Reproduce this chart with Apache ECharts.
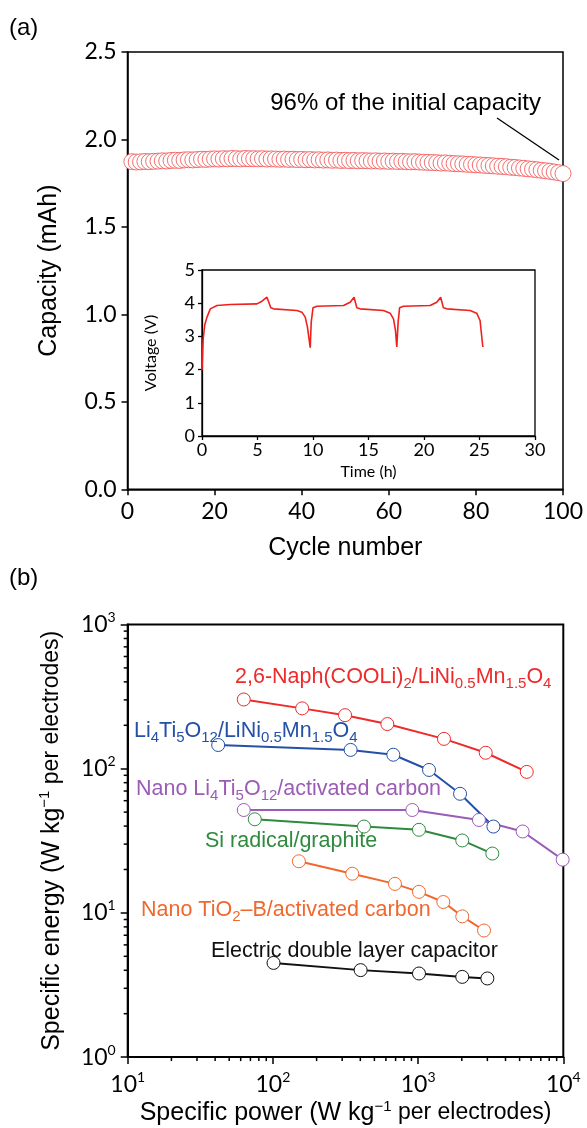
<!DOCTYPE html>
<html>
<head>
<meta charset="utf-8">
<script src="https://cdn.jsdelivr.net/npm/echarts@6/dist/echarts.min.js"></script>
<style>html,body{margin:0;padding:0;background:#fff}#c{width:587px;height:1128px}</style>
</head>
<body>
<div id="c"></div>
<script>
// ---------- (a) capacity vs cycle ----------
const cycles = [];
for (let i = 1; i <= 100; i++) cycles.push(i);
const capacity = [
  1.873,1.871,1.872,1.874,1.873,1.875,1.876,1.878,1.877,1.880,
  1.881,1.880,1.883,1.884,1.883,1.885,1.887,1.886,1.888,1.889,
  1.888,1.890,1.889,1.891,1.890,1.889,1.891,1.890,1.890,1.889,
  1.890,1.888,1.889,1.888,1.887,1.888,1.886,1.887,1.885,1.886,
  1.884,1.885,1.883,1.884,1.882,1.883,1.881,1.882,1.880,1.881,
  1.879,1.880,1.878,1.879,1.878,1.877,1.878,1.876,1.877,1.875,
  1.876,1.874,1.875,1.873,1.872,1.873,1.871,1.870,1.869,1.868,
  1.867,1.865,1.866,1.864,1.862,1.861,1.860,1.858,1.857,1.855,
  1.854,1.852,1.851,1.849,1.847,1.846,1.844,1.841,1.840,1.837,
  1.835,1.832,1.830,1.827,1.824,1.821,1.818,1.814,1.810,1.805
];

// ---------- inset voltage vs time ----------
const timeH = [0,0.1,0.25,0.45,0.75,1.35,2.55,4.95,5.4,5.85,6.0,6.2,6.45,8.55,9.0,9.3,9.5,9.7,9.75,
  9.84,10.0,10.35,12.75,13.35,13.7,13.95,14.25,16.35,16.95,17.25,17.43,17.55,
  17.67,17.8,18.15,20.55,21.15,21.5,21.75,22.05,24.15,24.75,25.05,25.3];
const voltage = [1.98,2.9,3.35,3.58,3.83,3.93,3.96,3.98,4.06,4.18,4.2,3.86,3.83,3.78,3.73,3.58,3.28,2.78,2.66,
  3.43,3.86,3.91,3.93,4.03,4.18,3.86,3.83,3.78,3.70,3.53,3.18,2.68,
  3.43,3.86,3.91,3.93,4.03,4.18,3.86,3.83,3.78,3.70,3.48,2.68];

// ---------- (b) Ragone plot ----------
const naphP = [63, 159, 314, 614, 1507, 2922, 5600];
const naphE = [302, 262, 235, 204, 161, 129, 95];
const ltoLnmoP = [42, 343, 675, 1189, 1945, 3300];
const ltoLnmoE = [146, 135, 125, 98, 67, 39.7];
const ltoAcP = [63, 912, 2624, 5248, 9900];
const ltoAcE = [51.7, 51.7, 44.1, 36.7, 23.4];
const siP = [75, 424, 1014, 2014, 3245];
const siE = [44.6, 39.7, 37.7, 31.8, 25.8];
const tioP = [151, 352, 693, 1014, 1492, 2014, 2844];
const tioE = [22.8, 18.7, 15.9, 14.0, 11.9, 9.46, 7.55];
const edlcP = [101, 402, 1014, 2014, 2999];
const edlcE = [4.50, 4.01, 3.80, 3.60, 3.51];

const seriesNames = ['2,6-Naph(COOLi)2/LiNi0.5Mn1.5O4','Li4Ti5O12/LiNi0.5Mn1.5O4','Nano Li4Ti5O12/activated carbon','Si radical/graphite','Nano TiO2–B/activated carbon','Electric double layer capacitor'];

const minorX = [20,30,40,50,60,70,80,90,200,300,400,500,600,700,800,900,2000,3000,4000,5000,6000,7000,8000,9000];
const minorY = [2,3,4,5,6,7,8,9,20,30,40,50,60,70,80,90,200,300,400,500,600,700,800,900];

const zip = (a, b) => a.map((v, i) => [v, b[i]]);
const BLK = '#000';
const ARIAL = 'Liberation Sans';
const NUM = 'Lato';

const chart = echarts.init(document.getElementById('c'), null, {renderer: 'canvas'});

function linAxis(o) {
  return Object.assign({
    type: 'value',
    splitLine: {show: false},
    axisLine: {show: true, onZero: false, lineStyle: {color: BLK, width: 1.5}},
    axisTick: {show: true, inside: false, length: 6, lineStyle: {color: BLK, width: 1.5}},
    axisLabel: {color: BLK, fontFamily: NUM, fontSize: 23, margin: 11},
    nameLocation: 'middle',
    nameTextStyle: {color: BLK, fontFamily: ARIAL, fontSize: 25, lineHeight: 30}
  }, o);
}

const supRich = {
  b: {fontFamily: NUM, fontSize: 23, lineHeight: 28, color: BLK},
  s: {fontFamily: NUM, fontSize: 14, lineHeight: 14, padding: [0, 0, 14, 0], color: BLK}
};
const powFmt = v => '{b|10}{s|' + Math.round(Math.log10(v)) + '}';

function logAxis(o) {
  return Object.assign({
    type: 'log', logBase: 10,
    splitLine: {show: false},
    minorTick: {show: false},
    axisLine: {show: true, onZero: false, lineStyle: {color: BLK, width: 2}},
    axisTick: {show: true, inside: false, length: 7, lineStyle: {color: BLK, width: 1.5}},
    axisLabel: {formatter: powFmt, rich: supRich, margin: 13},
    nameLocation: 'middle'
  }, o);
}

const nameRich = {
  a: {fontFamily: ARIAL, fontSize: 25, lineHeight: 30, color: BLK},
  s: {fontFamily: ARIAL, fontSize: 15, lineHeight: 15, padding: [0, 0, 13, 0], color: BLK},
  p: {fontFamily: ARIAL, fontSize: 23, lineHeight: 30, color: BLK}
};

const subRich = (color) => ({
  n: {fontFamily: ARIAL, fontSize: 21.5, lineHeight: 28, color: color},
  s: {fontFamily: ARIAL, fontSize: 15, lineHeight: 15, padding: [13, 0, 0, 0], color: color}
});

function lbl(text, x, capY, color) {
  return {type: 'text', x: x, y: capY - 14, z: 100,
    style: {text: text, rich: subRich(color), fill: color, verticalAlign: 'top', align: 'left'}};
}

function ragone(name, P, E, color) {
  return {
    name: name, type: 'line', xAxisIndex: 2, yAxisIndex: 2,
    data: zip(P, E), symbol: 'circle', symbolSize: 13, showSymbol: true,
    lineStyle: {color: color, width: 2},
    itemStyle: {color: '#fff', borderColor: color, borderWidth: 1},
    z: 5, clip: false, animation: false
  };
}

const option = {
  animation: false,
  backgroundColor: '#fff',
  grid: [
    {left: 127.5, top: 52, width: 435.5, height: 437.3, show: true, borderColor: BLK, borderWidth: 1.5, containLabel: false},
    {left: 202, top: 270, width: 333, height: 166, show: true, borderColor: BLK, borderWidth: 1.3, containLabel: false},
    {left: 127.7, top: 624.5, width: 435.6, height: 436.3, show: true, borderColor: BLK, borderWidth: 2, containLabel: false}
  ],
  xAxis: [
    linAxis({gridIndex: 0, min: 0, max: 100, interval: 20, name: 'Cycle number', nameGap: 44}),
    linAxis({gridIndex: 1, min: 0, max: 30, interval: 5, name: 'Time (h)', nameGap: 27,
      axisLine: {show: true, onZero: false, lineStyle: {color: BLK, width: 1.3}},
      axisTick: {show: true, length: 4, lineStyle: {color: BLK, width: 1.3}},
      axisLabel: {color: BLK, fontFamily: NUM, fontSize: 18, margin: 5},
      nameTextStyle: {color: BLK, fontFamily: NUM, fontSize: 16, lineHeight: 18}}),
    logAxis({gridIndex: 2, min: 10, max: 10000,
      name: '{a|Specific power (W kg}{s|−1}{p| per electrodes)}', nameGap: 38,
      nameTextStyle: {rich: nameRich}})
  ],
  yAxis: [
    linAxis({gridIndex: 0, min: 0, max: 2.5, interval: 0.5, name: 'Capacity (mAh)', nameGap: 63,
      axisLabel: {color: BLK, fontFamily: NUM, fontSize: 23, margin: 11, formatter: v => v.toFixed(1)}}),
    linAxis({gridIndex: 1, min: 0, max: 5, interval: 1, name: 'Voltage (V)', nameGap: 42,
      axisLine: {show: true, onZero: false, lineStyle: {color: BLK, width: 1.3}},
      axisTick: {show: true, length: 4, lineStyle: {color: BLK, width: 1.3}},
      axisLabel: {color: BLK, fontFamily: NUM, fontSize: 18, margin: 7},
      nameTextStyle: {color: BLK, fontFamily: NUM, fontSize: 16, lineHeight: 18}}),
    logAxis({gridIndex: 2, min: 1, max: 1000,
      axisLabel: {formatter: powFmt, rich: supRich, margin: 12},
      name: '{a|Specific energy (W kg}{s|−1}{p| per electrodes)}', nameGap: 61,
      nameTextStyle: {rich: nameRich}})
  ],
  series: [
    {type: 'scatter', xAxisIndex: 0, yAxisIndex: 0, data: zip(cycles, capacity),
      symbol: 'circle', symbolSize: 16, clip: false, z: 10,
      itemStyle: {color: '#fff', borderColor: '#f04a4a', borderWidth: 0.8, opacity: 1}},
    {type: 'line', xAxisIndex: 1, yAxisIndex: 1, data: zip(timeH, voltage), showSymbol: false,
      symbol: 'none', lineStyle: {color: '#f0201c', width: 1.6}, z: 5},
    ragone(seriesNames[0], naphP, naphE, '#ee2a2a'),
    ragone(seriesNames[1], ltoLnmoP, ltoLnmoE, '#2450a8'),
    ragone(seriesNames[2], ltoAcP, ltoAcE, '#9b5cb5'),
    ragone(seriesNames[3], siP, siE, '#2f8a3e'),
    ragone(seriesNames[4], tioP, tioE, '#f0682e'),
    ragone(seriesNames[5], edlcP, edlcE, '#111111'),
    {type: 'custom', xAxisIndex: 2, yAxisIndex: 2, data: minorX.map(v => [v, 1]), clip: false, silent: true,
      renderItem: (p, api) => { const c = api.coord([api.value(0), 1]);
        return {type: 'line', shape: {x1: c[0], y1: c[1], x2: c[0], y2: c[1] + 4}, style: {stroke: BLK, lineWidth: 1.5}}; }},
    {type: 'custom', xAxisIndex: 2, yAxisIndex: 2, data: minorY.map(v => [10, v]), clip: false, silent: true,
      renderItem: (p, api) => { const c = api.coord([10, api.value(1)]);
        return {type: 'line', shape: {x1: c[0] - 4, y1: c[1], x2: c[0], y2: c[1]}, style: {stroke: BLK, lineWidth: 1.5}}; }}
  ],
  graphic: [
    {type: 'text', x: 9, y: 16, style: {text: '(a)', font: '24px "Liberation Sans"', fill: BLK}},
    {type: 'text', x: 9, y: 566, style: {text: '(b)', font: '24px "Liberation Sans"', fill: BLK}},
    {type: 'text', x: 541, y: 103, z: 100, style: {text: '96% of the initial capacity', font: '24px "Liberation Sans"', fill: BLK, align: 'right', verticalAlign: 'middle'}},
    {type: 'line', z: 100, shape: {x1: 497, y1: 118, x2: 559, y2: 160}, style: {stroke: BLK, lineWidth: 1.3}},
    lbl('{n|2,6-Naph(COOLi)}{s|2}{n|/LiNi}{s|0.5}{n|Mn}{s|1.5}{n|O}{s|4}', 235, 677, '#ee2a2a'),
    lbl('{n|Li}{s|4}{n|Ti}{s|5}{n|O}{s|12}{n|/LiNi}{s|0.5}{n|Mn}{s|1.5}{n|O}{s|4}', 134, 731, '#2450a8'),
    lbl('{n|Nano Li}{s|4}{n|Ti}{s|5}{n|O}{s|12}{n|/activated carbon}', 136, 789, '#9b5cb5'),
    lbl('{n|Si radical/graphite}', 205, 841, '#2f8a3e'),
    lbl('{n|Nano TiO}{s|2}{n|–B/activated carbon}', 141, 910, '#f0682e'),
    lbl('{n|Electric double layer capacitor}', 211, 951, '#111111')
  ]
};
chart.setOption(option);
</script>
</body>
</html>
